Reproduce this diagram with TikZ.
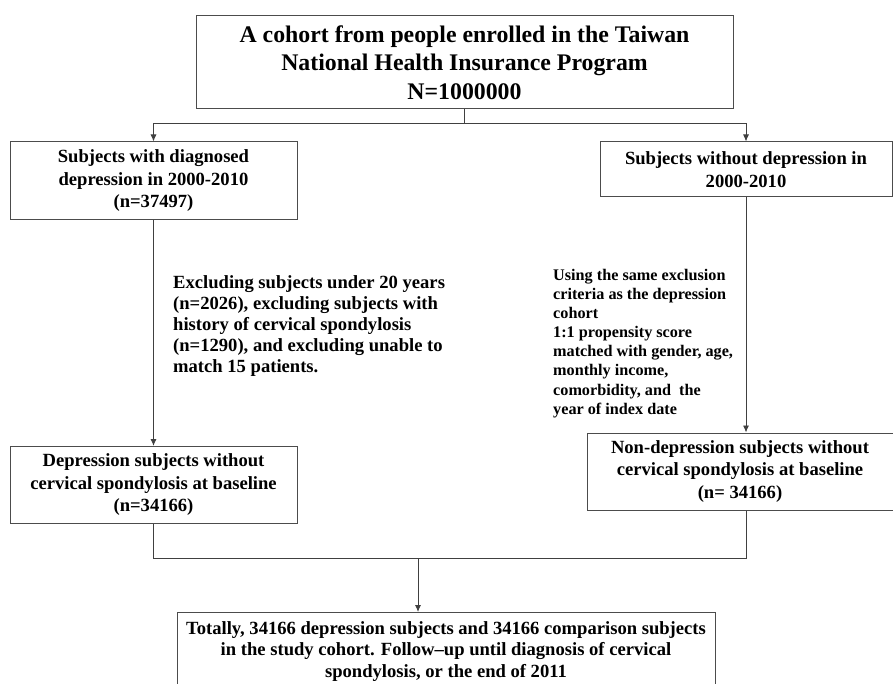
\documentclass[tikz,border=0pt]{standalone}
\usepackage{fontspec}
\setmainfont{Liberation Serif}
\usepackage{tikz}
\usetikzlibrary{arrows.meta}

\begin{document}
\begin{tikzpicture}[x=1pt, y=-1pt, >={Latex[length=7pt,width=6pt]},
    box/.style={draw=black!70, line width=1pt, align=center,
                inner sep=2pt, font=\bfseries\fontsize{18.6}{22.5}\selectfont},
    note/.style={align=left, inner sep=0pt, anchor=north west},
    link/.style={draw=black!75, line width=0.9pt}]
    \useasboundingbox (0,0) rectangle (893,684);

    \node[box, minimum width=537, minimum height=93,
          font=\bfseries\fontsize{23.8}{28.5}\selectfont] (cohort) at (464.5,62.5)
        {A cohort from people enrolled in the Taiwan\\
         National Health Insurance Program\\ N=1000000};

    \node[box, minimum width=287, minimum height=78] (dep) at (153.5,181)
        {Subjects with diagnosed\\ depression in 2000-2010\\ (n=37497)};
    \node[box, minimum width=292, minimum height=55] (nodep) at (746,169.5)
        {Subjects without depression in\\ 2000-2010};

    \node[note, font=\bfseries\fontsize{18.6}{21}\selectfont] (exclL) at (173,275.5)
        {Excluding subjects under 20 years\\
         (n=2026), excluding subjects with\\
         history of cervical spondylosis\\
         (n=1290), and excluding unable to\\
         match 15 patients.};
    \node[note, font=\bfseries\fontsize{16.2}{19.1}\selectfont] (exclR) at (553,269)
        {Using the same exclusion\\
         criteria as the depression\\
         cohort\\
         1:1 propensity score\\
         matched with gender, age,\\
         monthly income,\\
         comorbidity, and\ \ the\\
         year of index date};

    \node[box, minimum width=287, minimum height=77] (dep2) at (153.5,485)
        {Depression subjects without\\ cervical spondylosis at baseline\\ (n=34166)};
    \node[box, minimum width=306, minimum height=77] (nodep2) at (740,471.5)
        {Non-depression subjects without\\ cervical spondylosis at baseline\\ (n= 34166)};

    \node[box, minimum width=538, anchor=north, inner ysep=9pt,
          font=\bfseries\fontsize{18.6}{21.5}\selectfont,
          text depth=30pt] (total) at (446,612)
        {Totally, 34166 depression subjects and 34166 comparison subjects\\
         in the study cohort. Follow--up until diagnosis of cervical\\
         spondylosis, or the end of 2011};

    % connectors
    \coordinate (split) at (464.5,123);
    \coordinate (join) at (418,558);
    \draw[link] (cohort.south) -- (split);
    \draw[link,->] (split) -| (dep.north);
    \draw[link,->] (split) -| (nodep.north);
    \draw[link,->] (dep.south) -- (dep2.north);
    \draw[link,->] (nodep.south) -- (nodep.south |- nodep2.north);
    \draw[link] (dep2.south) |- (join);
    \draw[link] (nodep.south |- nodep2.south) |- (join);
    \draw[link,->] (join) -- (join |- total.north);
\end{tikzpicture}
\end{document}
